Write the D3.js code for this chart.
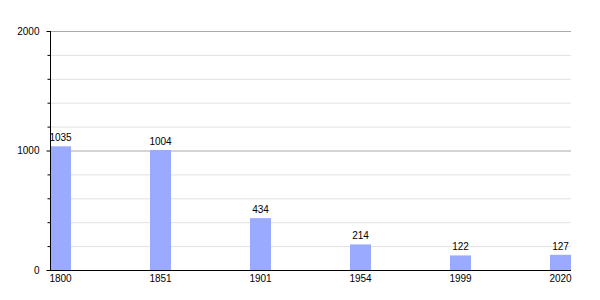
<!DOCTYPE html>
<html>
<head>
<meta charset="utf-8">
<script src="https://cdn.jsdelivr.net/npm/d3@7"></script>
<style>
  body { margin: 0; background: #fff; }
  svg text { font-family: "Liberation Sans", Arial, sans-serif; font-size: 10px; fill: #000; }
</style>
</head>
<body>
<div class="chart-bar"></div>
<script>
var years = ["1800", "1851", "1901", "1954", "1999", "2020"];
var population = [1035, 1004, 434, 214, 122, 127];
var majorTicks = [0, 1000, 2000];
var minorTicks = [200, 400, 600, 800, 1200, 1400, 1600, 1800];

var svg = d3.select(".chart-bar").append("svg")
  .attr("width", 600).attr("height", 300);

// x: one band per year, bar sits at band start
var xScale = d3.scaleBand().domain(years).range([50, 650]).padding(0);
var barW = 21;
var yScale = d3.scaleLinear().domain([0, 2000]).range([270, 31]);
var right = xScale(years[years.length - 1]) + barW;

// grid lines
svg.append("g").selectAll("line").data(minorTicks).enter().append("line")
  .attr("x1", 50).attr("x2", right)
  .attr("y1", d => yScale(d) + 0.5).attr("y2", d => yScale(d) + 0.5)
  .attr("stroke", "#e2e2e2");
svg.append("g").selectAll("line").data(majorTicks.slice(1)).enter().append("line")
  .attr("x1", 50).attr("x2", right)
  .attr("y1", d => yScale(d) + 0.5).attr("y2", d => yScale(d) + 0.5)
  .attr("stroke", "#aaaaaa");

// bars
svg.append("g").attr("fill", "#99aaff")
  .selectAll("rect").data(population).enter().append("rect")
  .attr("x", (d, i) => xScale(years[i]))
  .attr("y", d => yScale(d))
  .attr("width", barW)
  .attr("height", d => yScale(0) - yScale(d));

// value labels
svg.append("g").selectAll("text").data(population).enter().append("text")
  .attr("x", (d, i) => xScale(years[i]) + barW / 2)
  .attr("y", d => yScale(d) - 5)
  .attr("text-anchor", "middle")
  .text(d => d);

// y axis: major ticks with labels, minor ticks without
svg.append("g").attr("transform", "translate(50.5,0)")
  .call(d3.axisLeft(yScale).tickValues(majorTicks).tickSize(4).tickPadding(7).tickFormat(d3.format("d")))
  .call(g => g.select(".domain").attr("d", "M0," + yScale(2000) + "V" + yScale(0)))
  .call(g => g.selectAll("text").style("font-size", "10px"));
svg.append("g").attr("transform", "translate(50.5,0)")
  .call(d3.axisLeft(yScale).tickValues(minorTicks).tickSize(3).tickFormat(""))
  .call(g => g.select(".domain").remove());

// x axis line
svg.append("line")
  .attr("x1", 50).attr("x2", right)
  .attr("y1", yScale(0) + 0.5).attr("y2", yScale(0) + 0.5)
  .attr("stroke", "#000");

// x labels
svg.append("g").selectAll("text").data(years).enter().append("text")
  .attr("x", d => xScale(d) + barW / 2)
  .attr("y", 282)
  .attr("text-anchor", "middle")
  .text(d => d);
</script>
</body>
</html>
